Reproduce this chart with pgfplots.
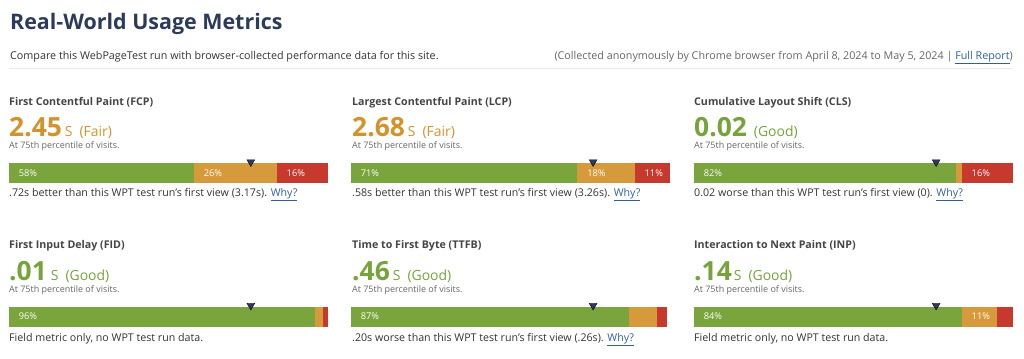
\documentclass[border=0pt]{standalone}
\usepackage{fontspec}
\setmainfont{Open Sans}
\usepackage{pgfplots}
\pgfplotsset{compat=1.18}
\definecolor{navy}{HTML}{2C3A5C}
\definecolor{cgood}{HTML}{7AA43C}
\definecolor{cfair}{HTML}{D69A3A}
\definecolor{cpoor}{HTML}{C8392D}
\definecolor{tgood}{HTML}{76A33A}
\definecolor{tfair}{HTML}{D4922B}
\definecolor{ttl}{HTML}{454545}
\definecolor{tsub}{HTML}{333333}
\definecolor{tgray}{HTML}{666666}
\definecolor{link}{HTML}{2F5F9E}
\newcommand\fs[1]{\fontsize{#1}{#1}\selectfont}
\newcommand\why{\textcolor{link}{\underline{Why?}}}
\pgfplotsset{baseax/.style={scale only axis, width=319bp, height=20bp,
  xmin=0, xmax=100, ymin=-0.5, ymax=0.5, hide axis, clip=false, anchor=west}}
\pgfplotsset{barax/.style={baseax, xbar stacked, bar width=20bp}}
\pgfplotsset{mk/.style={only marks, mark=triangle*,
  mark size=4.5bp, mark options={rotate=180, fill=navy, draw=none}}}
\pgfplotsset{lb/.style={only marks, mark=*, mark size=0pt,
  mark options={draw=none, fill=none}, nodes near coords, point meta=explicit symbolic,
  nodes near coords align={anchor=west},
  every node near coord/.append style={anchor=west, text=white, font=\fs{9.3}, inner sep=0pt}}}
\newcommand\ttl[2]{\node[anchor=base west, inner sep=0pt, text=ttl] at #1 {\fs{10.7}\bfseries #2};}
\newcommand\pct[1]{\node[anchor=base west, inner sep=0pt, text=tgray] at #1 {\fs{9}At 75th percentile of visits.};}
\newcommand\foot[2]{\node[anchor=base west, inner sep=0pt, text=tsub] at #1 {\fs{10.7}#2};}
\begin{document}
\begin{tikzpicture}
\path[use as bounding box] (0,0) rectangle (1024bp,-359bp);
% header
\node[anchor=base west, inner sep=0pt, text=navy] at (10bp,-29.5bp) {\fs{21.5}\bfseries Real-World Usage Metrics};
\node[anchor=base west, inner sep=0pt, text=tsub] at (10bp,-59bp) {\fs{10.8}Compare this WebPageTest run with browser-collected performance data for this site.};
\node[anchor=base east, inner sep=0pt, text=tgray] at (1013bp,-59bp) {\fs{10.8}(Collected anonymously by Chrome browser from April 8, 2024 to May 5, 2024 | \textcolor{link}{\underline{Full Report}})};
\draw[color=black!8, line width=1bp] (9bp,-68bp) -- (1013bp,-68bp);
% ---------- row 1 ----------
\ttl{(9bp,-105bp)}{First Contentful Paint (FCP)}
\node[anchor=base west, inner sep=0pt, text=tfair] at (9bp,-136bp) {{\fs{26.5}\bfseries 2.45}\hspace{3bp}{\fs{14}S}\hspace{7bp}{\fs{14}(Fair)}};
\pct{(9bp,-148bp)}
\foot{(9bp,-196bp)}{.72s better than this WPT test run's first view (3.17s). \why}

\ttl{(352bp,-105bp)}{Largest Contentful Paint (LCP)}
\node[anchor=base west, inner sep=0pt, text=tfair] at (352bp,-136bp) {{\fs{26.5}\bfseries 2.68}\hspace{3bp}{\fs{14}S}\hspace{7bp}{\fs{14}(Fair)}};
\pct{(352bp,-148bp)}
\foot{(352bp,-196bp)}{.58s better than this WPT test run's first view (3.26s). \why}

\ttl{(694bp,-105bp)}{Cumulative Layout Shift (CLS)}
\node[anchor=base west, inner sep=0pt, text=tgood] at (694bp,-136bp) {{\fs{26.5}\bfseries 0.02}\hspace{7bp}{\fs{14}(Good)}};
\pct{(694bp,-148bp)}
\foot{(694bp,-196bp)}{0.02 worse than this WPT test run's first view (0). \why}
% ---------- row 2 ----------
\ttl{(9bp,-248bp)}{First Input Delay (FID)}
\node[anchor=base west, inner sep=0pt, text=tgood] at (9bp,-280bp) {{\fs{26.5}\bfseries .01}\hspace{4bp}{\fs{14}S}\hspace{7bp}{\fs{14}(Good)}};
\pct{(9bp,-292bp)}
\foot{(9bp,-341bp)}{Field metric only, no WPT test run data.}

\ttl{(352bp,-248bp)}{Time to First Byte (TTFB)}
\node[anchor=base west, inner sep=0pt, text=tgood] at (352bp,-280bp) {{\fs{26.5}\bfseries .46}\hspace{3bp}{\fs{14}S}\hspace{7bp}{\fs{14}(Good)}};
\pct{(352bp,-292bp)}
\foot{(352bp,-341bp)}{.20s worse than this WPT test run's first view (.26s). \why}

\ttl{(694bp,-248bp)}{Interaction to Next Paint (INP)}
\node[anchor=base west, inner sep=0pt, text=tgood] at (694bp,-280bp) {{\fs{26.5}\bfseries .14}\hspace{2bp}{\fs{14}S}\hspace{7bp}{\fs{14}(Good)}};
\pct{(694bp,-292bp)}
\foot{(694bp,-341bp)}{Field metric only, no WPT test run data.}

% ---------- bars ----------
\begin{axis}[barax, at={(9bp,-173bp)}]
\addplot[fill=cgood, draw=none] coordinates {(58,0)};
\addplot[fill=cfair, draw=none] coordinates {(26,0)};
\addplot[fill=cpoor, draw=none] coordinates {(16,0)};
\end{axis}
\begin{axis}[baseax, at={(9bp,-173bp)}]
\addplot[mk] coordinates {(75.8,0.55)};
\addplot[lb] coordinates {(3,0) [58\%] (61,0) [26\%] (87,0) [16\%]};
\end{axis}

\begin{axis}[barax, at={(351bp,-173bp)}]
\addplot[fill=cgood, draw=none] coordinates {(71,0)};
\addplot[fill=cfair, draw=none] coordinates {(18,0)};
\addplot[fill=cpoor, draw=none] coordinates {(11,0)};
\end{axis}
\begin{axis}[baseax, at={(351bp,-173bp)}]
\addplot[mk] coordinates {(75.9,0.55)};
\addplot[lb] coordinates {(3,0) [71\%] (74,0) [18\%] (92,0) [11\%]};
\end{axis}

\begin{axis}[barax, at={(694bp,-173bp)}]
\addplot[fill=cgood, draw=none] coordinates {(82,0)};
\addplot[fill=cfair, draw=none] coordinates {(2,0)};
\addplot[fill=cpoor, draw=none] coordinates {(16,0)};
\end{axis}
\begin{axis}[baseax, at={(694bp,-173bp)}]
\addplot[mk] coordinates {(75.9,0.55)};
\addplot[lb] coordinates {(3,0) [82\%] (87,0) [16\%]};
\end{axis}

\begin{axis}[barax, at={(9bp,-316.5bp)}]
\addplot[fill=cgood, draw=none] coordinates {(95.8,0)};
\addplot[fill=cfair, draw=none] coordinates {(2.6,0)};
\addplot[fill=cpoor, draw=none] coordinates {(1.6,0)};
\end{axis}
\begin{axis}[baseax, at={(9bp,-316.5bp)}]
\addplot[mk] coordinates {(75.8,0.55)};
\addplot[lb] coordinates {(3,0) [96\%]};
\end{axis}

\begin{axis}[barax, at={(351bp,-316.5bp)}]
\addplot[fill=cgood, draw=none] coordinates {(87,0)};
\addplot[fill=cfair, draw=none] coordinates {(9,0)};
\addplot[fill=cpoor, draw=none] coordinates {(3,0)};
\end{axis}
\begin{axis}[baseax, at={(351bp,-316.5bp)}]
\addplot[mk] coordinates {(75.9,0.55)};
\addplot[lb] coordinates {(3,0) [87\%]};
\end{axis}

\begin{axis}[barax, at={(694bp,-316.5bp)}]
\addplot[fill=cgood, draw=none] coordinates {(84,0)};
\addplot[fill=cfair, draw=none] coordinates {(11,0)};
\addplot[fill=cpoor, draw=none] coordinates {(5,0)};
\end{axis}
\begin{axis}[baseax, at={(694bp,-316.5bp)}]
\addplot[mk] coordinates {(75.9,0.55)};
\addplot[lb] coordinates {(3,0) [84\%] (87,0) [11\%]};
\end{axis}
\end{tikzpicture}
\end{document}
